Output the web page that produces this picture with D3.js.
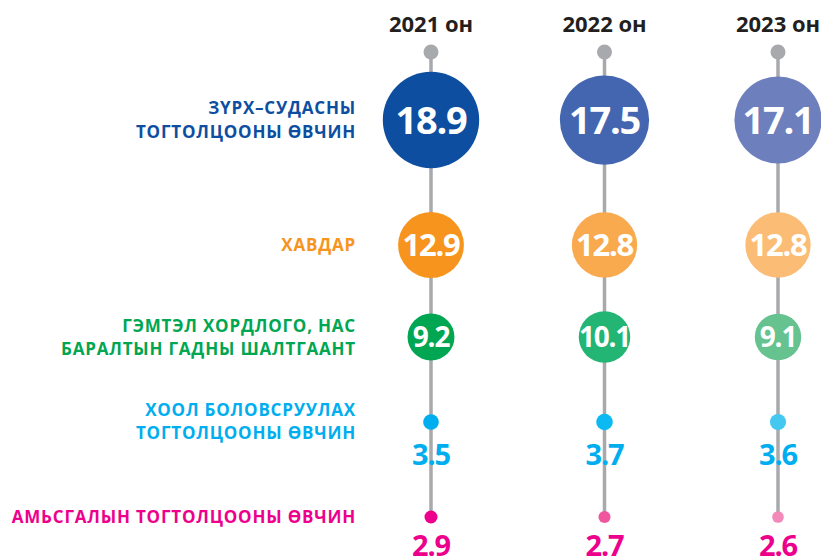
<!DOCTYPE html>
<html><head><meta charset="utf-8">
<script src="https://cdn.jsdelivr.net/npm/d3@7"></script>
<style>
body{margin:0;background:#fff;}
svg{display:block;font-family:"Open Sans",sans-serif;}
</style></head>
<body><svg id="c" width="821" height="558"></svg>
<script>
const years = ["2021 он", "2022 он", "2023 он"];
const categories = [
  ["ЗҮРХ–СУДАСНЫ", "ТОГТОЛЦООНЫ ӨВЧИН"],
  ["ХАВДАР"],
  ["ГЭМТЭЛ ХОРДЛОГО, НАС", "БАРАЛТЫН ГАДНЫ ШАЛТГААНТ"],
  ["ХООЛ БОЛОВСРУУЛАХ", "ТОГТОЛЦООНЫ ӨВЧИН"],
  ["АМЬСГАЛЫН ТОГТОЛЦООНЫ ӨВЧИН"]
];
const cardio = [18.9, 17.5, 17.1];
const cancer = [12.9, 12.8, 12.8];
const injury = [9.2, 10.1, 9.1];
const digestive = [3.5, 3.7, 3.6];
const respiratory = [2.9, 2.7, 2.6];
const series = [cardio, cancer, injury, digestive, respiratory];

const labelColors = ["#0d4ea1", "#f7941d", "#00a651", "#00aeef", "#ec008c"];
const circleColors = [
  ["#0d4ea0", "#4465b0", "#6e7fbd"],
  ["#f7941d", "#f9a94e", "#fbbd76"],
  ["#00a651", "#22b573", "#66c28e"],
  ["#00aeef", "#0db9f2", "#45c8f0"],
  ["#ec008c", "#f0569d", "#f389b8"]
];

const svg = d3.select("#c");
const x = d3.scalePoint().domain(years).range([431, 778]);
const rowIdx = d3.range(categories.length);
const y = d3.scaleOrdinal().domain(rowIdx).range([120, 245, 337, 422, 517]);
const r = d3.scaleLinear().domain([0, 20]).range([0, 51]);

// vertical lines
svg.selectAll("line.v").data(years).join("line")
  .attr("x1", d => x(d)).attr("x2", d => x(d))
  .attr("y1", 52).attr("y2", y(4))
  .attr("stroke", "#a7a9ac").attr("stroke-width", 3.5);

svg.selectAll("circle.top").data(years).join("circle")
  .attr("cx", d => x(d)).attr("cy", 52).attr("r", 7.5).attr("fill", "#a7a9ac");

svg.selectAll("text.year").data(years).join("text")
  .attr("x", d => x(d)).attr("y", 32)
  .attr("text-anchor", "middle").attr("font-size", 22).attr("font-weight", 700)
  .attr("fill", "#231f20").text(d => d);

// row labels
const lh = [24, 0, 23, 23, 0];
rowIdx.forEach(i => {
  const lines = categories[i];
  const t = svg.append("text").attr("text-anchor", "end")
    .attr("font-size", 17).attr("font-weight", 700).attr("letter-spacing", 0.8)
    .attr("fill", labelColors[i]);
  lines.forEach((ln, k) => {
    t.append("tspan").attr("x", 356)
      .attr("y", y(i) - (lines.length - 1) * lh[i] / 2 + k * lh[i] + 6 - (i === 3 ? 1 : 0))
      .text(ln);
  });
});

// circles and values
rowIdx.forEach(i => {
  const vals = series[i];
  const g = svg.append("g");
  g.selectAll("circle").data(vals).join("circle")
    .attr("cx", (d, j) => x(years[j])).attr("cy", y(i))
    .attr("r", d => i >= 3 ? r(d) * 0.88 : r(d))
    .attr("fill", (d, j) => circleColors[i][j]);
  const big = i < 3;
  const fs = [38, 31, 28][i] || 29;
  const off = i === 3 ? 33 : 29;
  g.selectAll("text").data(vals).join("text")
    .attr("x", (d, j) => x(years[j]))
    .attr("y", big ? y(i) + fs * 0.36 : y(i) + off + fs * 0.36)
    .attr("text-anchor", "middle").attr("font-size", fs).attr("font-weight", 700)
    .attr("letter-spacing", -1.2)
    .attr("fill", big ? "#fff" : labelColors[i])
    .text(d => d3.format(".1f")(d));
});
</script></body></html>
